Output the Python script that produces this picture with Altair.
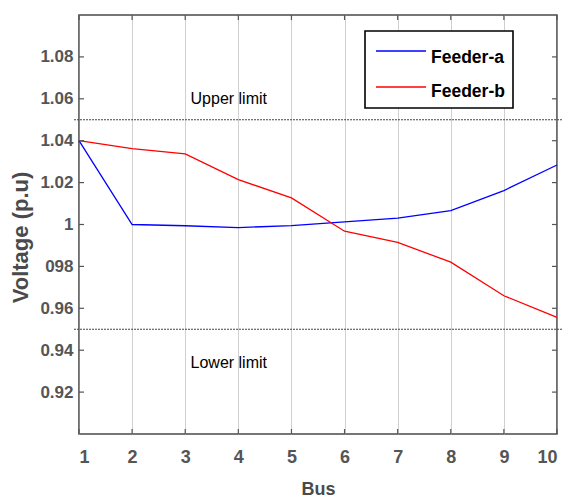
import altair as alt
import pandas as pd

# Bus voltages along the two feeders (p.u.)
buses = [1, 2, 3, 4, 5, 6, 7, 8, 9, 10]
feeder_a = [1.040, 1.000, 0.9994, 0.9985, 0.9995, 1.0013, 1.0030, 1.0066, 1.0162, 1.0284]
feeder_b = [1.040, 1.0362, 1.0337, 1.0214, 1.0127, 0.9968, 0.9915, 0.9820, 0.9660, 0.9557]
series_names = ["Feeder-a", "Feeder-b"]
series_colors = ["#0000ff", "#ff0000"]

# Voltage limits and their captions
upper_limit = 1.05
lower_limit = 0.95
limit_captions = ["Upper limit", "Lower limit"]
caption_bus = [3.1, 3.1]
caption_voltage = [1.0575, 0.9315]

y_ticks = [0.92, 0.94, 0.96, 0.98, 1.00, 1.02, 1.04, 1.06, 1.08]

W, H = 478, 419
FONT = "Liberation Sans, Arial, sans-serif"

df = pd.DataFrame({
    "Bus": buses * 2,
    "Voltage": feeder_a + feeder_b,
    "Feeder": [series_names[0]] * len(buses) + [series_names[1]] * len(buses),
})

x_scale = alt.Scale(domain=[1, 10], nice=False, zero=False)
y_scale = alt.Scale(domain=[0.90, 1.10], nice=False, zero=False)

x_axis = alt.Axis(
    values=buses, title="Bus", grid=True, gridColor="#a0a0a0", gridDash=[1, 1],
    gridWidth=1, domain=False, ticks=False, labelPadding=14,
    labelFont=FONT, labelFontSize=18, labelFontWeight="bold", labelColor="#555555",
    titleFont=FONT, titleFontSize=18, titleFontWeight="bold", titleColor="#4a4a4a",
    titleBaseline="alphabetic", titleY=60,
)
y_axis = alt.Axis(
    values=y_ticks, title="Voltage (p.u)", grid=False, domain=False, ticks=False,
    labelPadding=6, labelFont=FONT, labelFontSize=17, labelFontWeight="bold",
    labelColor="#555555",
    labelExpr="abs(datum.value-1)<1e-6 ? '1' : (abs(datum.value-0.98)<1e-6 ? '098' : format(datum.value, '.2f'))",
    titleFont=FONT, titleFontSize=22, titleFontWeight="bold", titleColor="#4a4a4a",
    titleAngle=270, titleBaseline="alphabetic", titleAlign="center", titleX=-52, titleY=222,
)

lines = alt.Chart(df).mark_line(strokeWidth=1.3).encode(
    x=alt.X("Bus:Q", scale=x_scale, axis=x_axis),
    y=alt.Y("Voltage:Q", scale=y_scale, axis=y_axis),
    color=alt.Color("Feeder:N", scale=alt.Scale(domain=series_names, range=series_colors), legend=None),
)

limits_df = pd.DataFrame({"limit": [upper_limit, lower_limit]})
limit_rules = alt.Chart(limits_df).mark_rule(
    color="#444444", strokeWidth=1.2, strokeDash=[2, 1]
).encode(
    y=alt.Y("limit:Q", scale=y_scale),
    x=alt.value(-5), x2=alt.value(W + 5),
)

captions_df = pd.DataFrame({"text": limit_captions, "Bus": caption_bus, "Voltage": caption_voltage})
captions = alt.Chart(captions_df).mark_text(
    align="left", baseline="alphabetic", font=FONT, fontSize=16, color="#000000"
).encode(
    x=alt.X("Bus:Q", scale=x_scale),
    y=alt.Y("Voltage:Q", scale=y_scale),
    text="text:N",
)

# Inward tick marks on all four sides of the frame
ytick_df = pd.DataFrame({"v": y_ticks})
xtick_df = pd.DataFrame({"b": buses})
tick_style = dict(color="#555555", strokeWidth=1.2)
left_ticks = alt.Chart(ytick_df).mark_rule(**tick_style).encode(
    y=alt.Y("v:Q", scale=y_scale), x=alt.value(0), x2=alt.value(5))
right_ticks = alt.Chart(ytick_df).mark_rule(**tick_style).encode(
    y=alt.Y("v:Q", scale=y_scale), x=alt.value(W - 5), x2=alt.value(W))
top_ticks = alt.Chart(xtick_df).mark_rule(**tick_style).encode(
    x=alt.X("b:Q", scale=x_scale), y=alt.value(0), y2=alt.value(5))
bottom_ticks = alt.Chart(xtick_df).mark_rule(**tick_style).encode(
    x=alt.X("b:Q", scale=x_scale), y=alt.value(H - 5), y2=alt.value(H))

# Boxed legend in the upper right
legend_layers = [
    alt.Chart(pd.DataFrame({"k": [0]})).mark_rect(
        fill="white", stroke="#000000", strokeWidth=1.6
    ).encode(x=alt.value(286), x2=alt.value(434), y=alt.value(16), y2=alt.value(93))
]
row_line_y = [36, 72]
row_text_y = [47.5, 82]
for name, color, ly, ty in zip(series_names, series_colors, row_line_y, row_text_y):
    item = pd.DataFrame({"name": [name]})
    legend_layers.append(
        alt.Chart(item).mark_rule(color=color, strokeWidth=1.3).encode(
            x=alt.value(297), x2=alt.value(347), y=alt.value(ly))
    )
    legend_layers.append(
        alt.Chart(item).mark_text(
            align="left", baseline="alphabetic", font=FONT, fontSize=17.5,
            fontWeight="bold", color="#000000"
        ).encode(x=alt.value(352), y=alt.value(ty), text="name:N")
    )

chart = alt.layer(
    lines, limit_rules, captions, left_ticks, right_ticks, top_ticks, bottom_ticks,
    *legend_layers
).properties(
    width=W, height=H,
    autosize=alt.AutoSizeParams(type="none"),
    padding={"left": 79, "top": 15, "right": 10, "bottom": 63},
    background="white",
).configure_view(
    stroke="#4a4a4a", strokeWidth=1.6
)

chart.save("out.html", embed_options={"renderer": "svg", "actions": False})
